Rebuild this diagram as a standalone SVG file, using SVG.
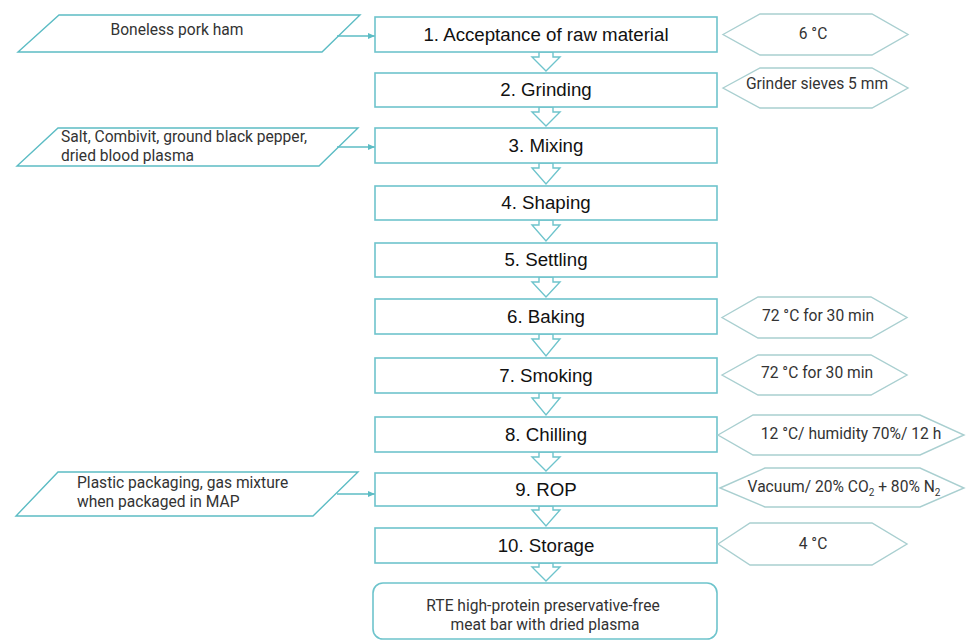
<svg xmlns="http://www.w3.org/2000/svg" width="967" height="641" viewBox="0 0 967 641">
<style>
.step{fill:#fff;stroke:#6ec4cc;stroke-width:1.6}
.para{fill:#fff;stroke:#5cbcc4;stroke-width:1.4}
.hex{fill:#fff;stroke:#a9cfd0;stroke-width:1.4}
.chev{fill:#fff;stroke:#6ec4cc;stroke-width:1.4;stroke-linejoin:miter}
.lbl{font-family:"Liberation Sans",Arial,sans-serif;font-size:18.7px;fill:#111;text-anchor:middle}
.note{font-family:Roboto,"Noto Sans",sans-serif;font-size:15.6px;fill:#333}
.mid{text-anchor:middle}
.link{stroke:#5cbcc4;stroke-width:1.4;fill:none}
</style>
<defs>
<marker id="ah" markerWidth="8" markerHeight="8" refX="7" refY="4" orient="auto" markerUnits="userSpaceOnUse">
<path d="M0,1 L7,4 L0,7 Z" fill="#5cbcc4"/>
</marker>
</defs>

<g id="inputs">
<g id="in1"><polygon class="para" points="59,15 360,15 322,52 18,52"/><text class="note mid" x="177" y="35">Boneless pork ham</text></g>
<g id="in3"><polygon class="para" points="58,128 358,128 319,166 17,166"/><text class="note" x="61" y="142">Salt, Combivit, ground black pepper,</text><text class="note" x="61" y="161">dried blood plasma</text></g>
<g id="in9"><polygon class="para" points="58,472 358,472 313,516 16,516"/><text class="note" x="77" y="488">Plastic packaging, gas mixture</text><text class="note" x="77" y="507">when packaged in MAP</text></g>
</g>

<g id="connectors">
<line class="link" x1="337" y1="36" x2="375" y2="36" marker-end="url(#ah)"/>
<line class="link" x1="337" y1="147" x2="375" y2="147" marker-end="url(#ah)"/>
<line class="link" x1="337" y1="494" x2="375" y2="494" marker-end="url(#ah)"/>
<polygon class="chev" points="539,52 553,52 553,57 560,57 546,71 532,57 539,57"/>
<polygon class="chev" points="539,107 553,107 553,112 560,112 546,126 532,112 539,112"/>
<polygon class="chev" points="539,163 553,163 553,168 560,168 546,184 532,168 539,168"/>
<polygon class="chev" points="539,220 553,220 553,225 560,225 546,241 532,225 539,225"/>
<polygon class="chev" points="539,277 553,277 553,282 560,282 546,297 532,282 539,282"/>
<polygon class="chev" points="539,334 553,334 553,339 560,339 546,356 532,339 539,339"/>
<polygon class="chev" points="539,393 553,393 553,398 560,398 546,415 532,398 539,398"/>
<polygon class="chev" points="539,452 553,452 553,457 560,457 546,471 532,457 539,457"/>
<polygon class="chev" points="539,506 553,506 553,510 560,510 546,526 532,510 539,510"/>
<polygon class="chev" points="539,563 553,563 553,567 560,567 546,581 532,567 539,567"/>
</g>

<g id="steps">
<g id="s1"><rect class="step" x="375" y="17" width="342" height="35"/><text class="lbl" x="546" y="41">1. Acceptance of raw material</text></g>
<g id="s2"><rect class="step" x="375" y="73" width="342" height="34"/><text class="lbl" x="546" y="96">2. Grinding</text></g>
<g id="s3"><rect class="step" x="375" y="128" width="342" height="35"/><text class="lbl" x="546" y="152">3. Mixing</text></g>
<g id="s4"><rect class="step" x="375" y="186" width="342" height="34"/><text class="lbl" x="546" y="209">4. Shaping</text></g>
<g id="s5"><rect class="step" x="375" y="243" width="342" height="34"/><text class="lbl" x="546" y="266">5. Settling</text></g>
<g id="s6"><rect class="step" x="375" y="299" width="342" height="35"/><text class="lbl" x="546" y="323">6. Baking</text></g>
<g id="s7"><rect class="step" x="375" y="358" width="342" height="35"/><text class="lbl" x="546" y="382">7. Smoking</text></g>
<g id="s8"><rect class="step" x="375" y="417" width="342" height="35"/><text class="lbl" x="546" y="441">8. Chilling</text></g>
<g id="s9"><rect class="step" x="375" y="473" width="342" height="33"/><text class="lbl" x="546" y="496">9. ROP</text></g>
<g id="s10"><rect class="step" x="375" y="528" width="342" height="35"/><text class="lbl" x="546" y="552">10. Storage</text></g>
<g id="out"><rect class="step" x="373" y="583" width="344" height="56" rx="10"/><text class="note mid" x="543" y="611">RTE high-protein preservative-free</text><text class="note mid" x="545" y="630">meat bar with dried plasma</text></g>
</g>

<g id="params">
<g id="p1"><polygon class="hex" points="723,34.5 760,14 872,14 908,34.5 872,55 760,55"/><text class="note mid" x="813" y="39">6 °C</text></g>
<g id="p2"><polygon class="hex" points="723,88 760,68 872,68 908,88 872,108 760,108"/><text class="note mid" x="817" y="89">Grinder sieves 5 mm</text></g>
<g id="p6"><polygon class="hex" points="722,317.5 758,297 871,297 907,317.5 871,338 758,338"/><text class="note mid" x="818" y="321">72 °C for 30 min</text></g>
<g id="p7"><polygon class="hex" points="722,375 758,355 871,355 907,375 871,395 758,395"/><text class="note mid" x="817" y="378">72 °C for 30 min</text></g>
<g id="p8"><polygon class="hex" points="718,435 753,415 920,415 964,435 920,455 753,455"/><text class="note mid" x="851" y="439">12 °C/ humidity 70%/ 12 h</text></g>
<g id="p9"><polygon class="hex" points="720,488 765,468 920,468 964,488 920,507 765,507"/><text class="note mid" x="844" y="492">Vacuum/ 20% CO<tspan font-size="10" dy="4">2</tspan><tspan dy="-4"> + 80% N</tspan><tspan font-size="10" dy="4">2</tspan></text></g>
<g id="p10"><polygon class="hex" points="718,544 750,523 872,523 907,544 872,565 750,565"/><text class="note mid" x="813" y="549">4 °C</text></g>
</g>
</svg>
